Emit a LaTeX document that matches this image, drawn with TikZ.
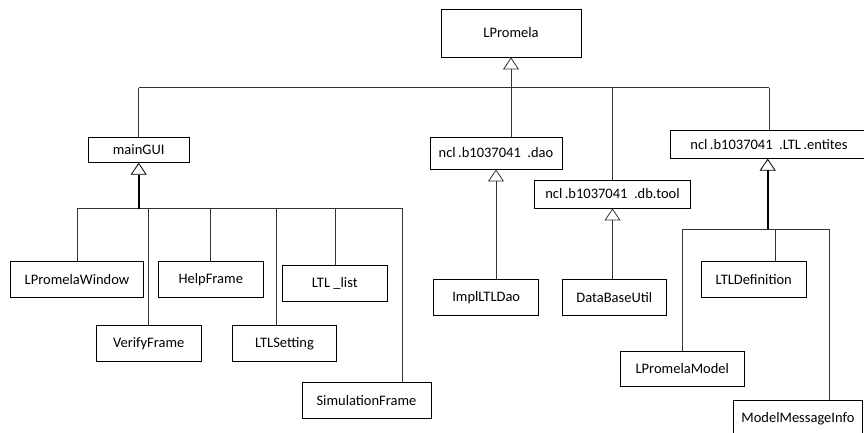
\documentclass[tikz,border=0pt]{standalone}
\usepackage{fontspec}
\setmainfont{Carlito}
\usetikzlibrary{arrows.meta}

\begin{document}
\begin{tikzpicture}[x=1pt, y=-1pt, font=\fontsize{14.5}{17}\selectfont,
        every node/.append style={inner sep=2pt}]
      \tikzstyle{cls} = [draw, line width=0.8pt, fill=white]
      \tikzstyle{link} = [draw=black!80, line width=0.8pt]
      \tikzstyle{isa} = [link, -{Triangle[open, width=16pt, length=12pt, line width=0.8pt]}]
      \useasboundingbox (0,0) rectangle (864,432);
      \clip (0,0) rectangle (864,432);
      \node (LPromela) [cls, minimum width=140pt, minimum height=48pt] at (511,33) {LPromela};
      \node (mainGUI) [cls, minimum width=101pt, minimum height=25pt] at (138.7,149.8) {mainGUI};
      \node (dao) [cls, minimum width=132pt, minimum height=32pt] at (496,153) {ncl\,.b1037041\ \ .dao};
      \node (dbtool) [cls, minimum width=156pt, minimum height=28pt] at (612.5,194) {ncl\,.b1037041\ \ .db.tool};
      \node (entites) [cls, minimum width=197pt, minimum height=27.5pt] at (769,144.5) {ncl\,.b1037041\ \ .LTL\,.entites\hspace{4pt}};
      \node (LPromelaWindow) [cls, minimum width=132.6pt, minimum height=35.3pt] at (77,279.3) {LPromelaWindow};
      \node (HelpFrame) [cls, minimum width=105pt, minimum height=35.3pt] at (210.8,279.3) {HelpFrame};
      \node (LTLlist) [cls, minimum width=105pt, minimum height=35.7pt] at (334.8,283.2) {LTL \_list};
      \node (VerifyFrame) [cls, minimum width=104.7pt, minimum height=36pt] at (148.7,343.3) {VerifyFrame};
      \node (LTLSetting) [cls, minimum width=104.4pt, minimum height=36pt] at (284.5,343.3) {LTLSetting\hspace{9pt}};
      \node (SimulationFrame) [cls, minimum width=129pt, minimum height=35.6pt] at (366.5,400.5) {SimulationFrame\hspace{10pt}};
      \node (ImplLTLDao) [cls, minimum width=105pt, minimum height=36pt] at (486.2,297.3) {ImplLTLDao\hspace{8pt}};
      \node (DataBaseUtil) [cls, minimum width=104.7pt, minimum height=36pt] at (614.3,297.3) {DataBaseUtil};
      \node (LTLDefinition) [cls, minimum width=105pt, minimum height=35.3pt] at (753.8,279.3) {LTLDefinition};
      \node (LPromelaModel) [cls, minimum width=124pt, minimum height=35.3pt] at (682.3,368.7) {LPromelaModel\hspace{8pt}};
      \node (ModelMessageInfo) [cls, minimum width=129pt, minimum height=36pt, anchor=north west] at (733,400) {ModelMessageInfo\hspace{10pt}};
      \coordinate (topbus) at (0,87.5);
      \coordinate (guibus) at (0,208.7);
      \coordinate (entbus) at (0,229.3);
      % LPromela and its packages
      \draw[link] (topbus -| mainGUI.north) -- (topbus -| entites.north);
      \foreach \n in {mainGUI, entites}
        \draw[link] (\n.north) -- (topbus -| \n.north);
      \draw[link] (dbtool.north) -- (topbus -| dbtool.north);
      \draw[isa] (LPromela.south |- dao.north) -- (LPromela.south);
      % mainGUI
      \draw[link] (guibus -| 77,0) -- (guibus -| 402.7,0);
      \foreach \n/\x in {LPromelaWindow/77, VerifyFrame/148.7, HelpFrame/210.3,
                         LTLSetting/276, LTLlist/335, SimulationFrame/402.7}
        \draw[link] (\n.north -| \x,0) -- (guibus -| \x,0);
      \draw[isa, line width=1.6pt, draw=black] (guibus -| mainGUI.south) -- (mainGUI.south);
      % dao and db.tool
      \draw[isa] (ImplLTLDao.north -| dao.south) -- (dao.south);
      \draw[isa] (DataBaseUtil.north -| dbtool.south) -- (dbtool.south);
      % entites
      \draw[link] (entbus -| 682.3,0) -- (entbus -| 829.7,0);
      \foreach \n/\x in {LPromelaModel/682.3, LTLDefinition/775.3, ModelMessageInfo/829.7}
        \draw[link] (\n.north -| \x,0) -- (entbus -| \x,0);
      \draw[isa, line width=1.6pt, draw=black] (entbus -| 767.7,0) -- (entites.south -| 767.7,0);
\end{tikzpicture}
\end{document}
